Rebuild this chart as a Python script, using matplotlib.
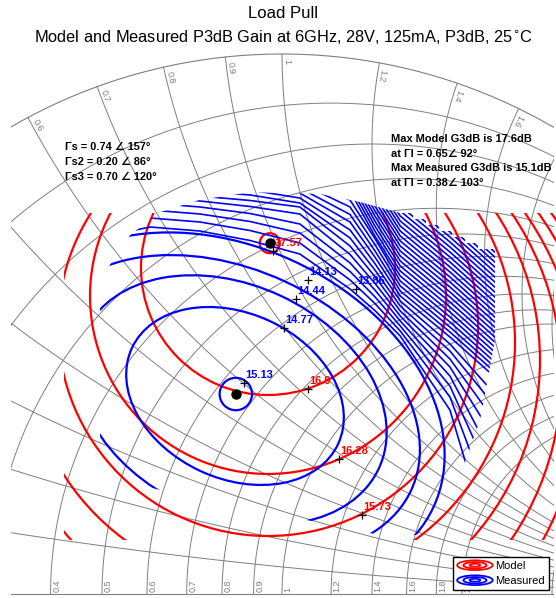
import numpy as np
import matplotlib
matplotlib.use('Agg')
import matplotlib.pyplot as plt
from matplotlib.patches import Circle, Ellipse, Rectangle, Polygon
from matplotlib.legend_handler import HandlerBase
from matplotlib.lines import Line2D

plt.rcParams['font.family'] = ['Liberation Sans', 'DejaVu Sans']
nan = np.nan

# smith chart grid
r_grid = [0.1, 0.2, 0.3, 0.4, 0.5, 0.6, 0.7, 0.8, 0.9, 1, 1.2, 1.4, 1.6, 1.8, 2, 3, 4, 5, 10, 20, 50]
x_grid = [0.1, 0.2, 0.3, 0.4, 0.5, 0.6, 0.7, 0.8, 0.9, 1, 1.2, 1.4, 1.6, 1.8, 2, 3, 4, 5, 10, 20, 50]
r_labels = [0.4, 0.5, 0.6, 0.7, 0.8, 0.9, 1, 1.2, 1.4, 1.6, 1.8, 2]
x_labels = [0.6, 0.7, 0.8, 0.9, 1, 1.2, 1.4, 1.6]

# max gain points (magnitude, angle): model, measured
max_mag = [0.65, 0.38]
max_ang = [92, 103]

# model contours, circles in the gamma plane (first one sits on the max point)
model_cx = [-0.0227, -0.0259, -0.0259, -0.0259, -0.0222, -0.0204, -0.0222, -0.0222, -0.0222, -0.0222]
model_cy = [0.6496, 0.6037, 0.5519, 0.4963, 0.4657, 0.4333, 0.4037, 0.3759, 0.35, 0.3259]
model_r = [0.0185, 0.2352, 0.3296, 0.3889, 0.4537, 0.4981, 0.5398, 0.5759, 0.6111, 0.6444]
# model sweep area (gamma x from, gamma y from, gamma y to)
model_box = [-0.404, 0.1, 0.7056]

# measured contours near the max: ellipses (cx, cy, half axes, tilt)
meas_cx = [-0.0855, -0.0870, -0.0926, -0.1000, -0.1056]
meas_cy = [0.3703, 0.3667, 0.3593, 0.3500, 0.3407]
meas_a = [0.030, 0.2106, 0.3000, 0.3741, 0.4259]
meas_b = [0.030, 0.1530, 0.2130, 0.2519, 0.3037]
meas_tilt = [0, -25, -25, -25, -25]

# outer measured contours: gamma y at these gamma x columns
meas_col_x = [-0.337, -0.244, -0.152, -0.059, 0.033, 0.126, 0.172, 0.219, 0.311, 0.394]
meas_outer_y = [
    [0.6611, 0.6796, 0.6722, 0.6546, 0.6296, 0.5648, 0.5250, 0.4778, 0.3407, 0.0630],
    [0.6778, 0.6963, 0.6889, 0.6731, 0.6500, 0.5815, 0.5380, 0.4870, 0.3648, 0.1426],
    [0.6926, 0.7111, 0.7037, 0.6898, 0.6685, 0.5972, 0.5505, 0.4963, 0.3852, 0.2000],
    [0.7056, 0.7241, 0.7167, 0.7046, 0.6852, 0.6130, 0.5630, 0.5056, 0.4037, 0.2463],
    [0.7167, 0.7352, 0.7278, 0.7176, 0.7037, 0.6287, 0.5755, 0.5148, 0.4204, 0.2870],
    [0.7259, 0.7444, 0.7370, 0.7287, 0.7167, 0.6444, 0.5880, 0.5241, 0.4352, 0.3204],
    [0.7352, 0.7537, 0.7463, 0.7389, 0.7241, 0.6593, 0.6000, 0.5333, 0.4500, 0.3481],
    [0.7444, 0.7630, 0.7556, 0.7481, 0.7333, 0.6741, 0.6120, 0.5426, 0.4630, 0.3704],
    [nan, nan, nan, nan, 0.7426, 0.6889, 0.6241, 0.5519, 0.4759, 0.4019],
    [nan, nan, nan, nan, 0.7519, 0.7028, 0.6356, 0.5611, 0.4852, 0.4111],
    [nan, nan, nan, nan, 0.7611, 0.7167, 0.6472, 0.5704, 0.4944, 0.4204],
    [nan, nan, nan, nan, 0.7704, 0.7296, 0.6583, 0.5796, 0.5037, 0.4296],
    [nan, nan, nan, nan, nan, 0.7463, 0.6630, 0.5889, 0.5130, 0.4389],
    [nan, nan, nan, nan, nan, 0.7556, 0.6722, 0.5981, 0.5222, 0.4481],
    [nan, nan, nan, nan, nan, 0.7648, 0.6815, 0.6074, 0.5315, 0.4574],
    [nan, nan, nan, nan, nan, 0.7741, 0.6907, 0.6167, 0.5407, 0.4667],
    [nan, nan, nan, nan, nan, 0.7833, 0.7000, 0.6259, 0.5500, 0.4759],
    [nan, nan, nan, nan, nan, 0.7926, 0.7093, 0.6352, 0.5593, 0.4852],
    [nan, nan, nan, nan, nan, 0.8019, 0.7185, 0.6444, 0.5685, 0.4944],
    [nan, nan, nan, nan, nan, 0.8111, 0.7278, 0.6537, 0.5778, 0.5037],
    [nan, nan, nan, nan, nan, 0.8204, 0.7370, 0.6630, 0.5870, 0.5130],
    [nan, nan, nan, nan, nan, 0.8296, 0.7463, 0.6722, 0.5963, 0.5222],
    [nan, nan, nan, nan, nan, 0.8389, 0.7556, 0.6815, 0.6056, 0.5315],
    [nan, nan, nan, nan, nan, 0.8481, 0.7648, 0.6907, 0.6148, 0.5407],
    [nan, nan, nan, nan, nan, 0.8574, 0.7741, 0.7000, 0.6241, 0.5500],
    [nan, nan, nan, nan, nan, 0.8667, 0.7833, 0.7093, 0.6333, 0.5593],
    [nan, nan, nan, nan, nan, 0.8759, 0.7926, 0.7185, 0.6426, 0.5685],
    [nan, nan, nan, nan, nan, 0.8852, 0.8019, 0.7278, 0.6519, 0.5778],
    [nan, nan, nan, nan, nan, 0.8944, 0.8111, 0.7370, 0.6611, 0.5870],
    [nan, nan, nan, nan, nan, 0.9037, 0.8204, 0.7463, 0.6704, 0.5963],
    [nan, nan, nan, nan, nan, 0.9130, 0.8296, 0.7556, 0.6796, 0.6056],
    [nan, nan, nan, nan, nan, 0.9222, 0.8389, 0.7648, 0.6889, 0.6148],
    [nan, nan, nan, nan, nan, 0.9315, 0.8481, 0.7741, 0.6981, 0.6241],
    [nan, nan, nan, nan, nan, 0.9407, 0.8574, 0.7833, 0.7074, 0.6333],
]

# measured sweep area outline
meas_area_x = [-0.337, -0.319, -0.281, -0.226, -0.152, -0.059, 0.070, 0.144, 0.219,
               0.2426, 0.2426, 0.2667, 0.2667, 0.2907, 0.2907, 0.3148, 0.3148, 0.3389, 0.3389,
               0.3630, 0.3630, 0.3944, 0.3944, 0.3667, 0.3204, 0.2778, 0.2130, 0.1611, 0.0759,
               -0.0593, -0.1889, -0.300, -0.337]
meas_area_y = [0.544, 0.609, 0.665, 0.707, 0.730, 0.744, 0.741, 0.726, 0.7056,
               0.7056, 0.6944, 0.6944, 0.6833, 0.6833, 0.6722, 0.6722, 0.6611, 0.6611, 0.65,
               0.65, 0.6389, 0.6389, 0.4704, 0.3222, 0.1926, 0.1148, 0.1037, 0.1130, 0.1315,
               0.1556, 0.1833, 0.2111, 0.2296]

# contour label points
lab_text = ['17.57', '16.9', '16.28', '15.73', '15.13', '14.77', '14.44', '14.13', '13.86']
lab_x = [-0.0167, 0.0481, 0.1056, 0.1481, -0.0704, 0.0037, 0.0259, 0.0481, 0.137]
lab_y = [0.6352, 0.3796, 0.25, 0.1463, 0.3907, 0.4926, 0.5463, 0.5815, 0.5648]
lab_col = ['red', 'red', 'red', 'red', 'blue', 'blue', 'blue', 'blue', 'blue']


class RingHandler(HandlerBase):
    def create_artists(self, legend, orig_handle, xd, yd, w, h, fontsize, trans):
        col = orig_handle.get_color()
        cx, cy = -xd + w/2, -yd + h/2
        arts = []
        for s in [1.0, 0.65, 0.3]:
            arts.append(Ellipse((cx, cy), w*s, h*1.25*s, fill=False, ec=col, lw=1.3, transform=trans))
        return arts


fig = plt.figure(figsize=(5.56, 5.98), dpi=100)
ax = fig.add_axes([11/556, 1/598, 543/556, 547/598])
ax.set_xlim((11-282)/540, (554-282)/540)
ax.set_ylim((594-597)/540, (594-50)/540)
ax.axis('off')

gc = '#7f7f7f'
th = np.linspace(0, np.pi, 400)
ax.plot(np.cos(th), np.sin(th), color=gc, lw=0.8)
ax.plot([-1, 1], [0, 0], color=gc, lw=0.8)
for r in r_grid:
    c = r/(1+r); R = 1/(1+r)
    ax.plot(c + R*np.cos(th), R*np.sin(th), color=gc, lw=0.7)
rr = np.concatenate([[0], np.logspace(-3, 3, 600)])
for x in x_grid:
    g = (rr + 1j*x - 1)/(rr + 1j*x + 1)
    ax.plot(g.real, g.imag, color=gc, lw=0.7)

for r in r_labels:
    g = (r-1)/(r+1)
    ax.text(g + 0.003, 0.004, str(r), rotation=90, rotation_mode='anchor',
            ha='left', va='top', fontsize=6.5, color=gc)
for x in x_labels:
    g = (1j*x - 1)/(1j*x + 1)
    t = np.angle(g)
    p = 0.99*g
    ax.text(p.real, p.imag, str(x), rotation=np.degrees(t)-180, rotation_mode='anchor',
            ha='left', va='bottom', fontsize=6.5, color=gc)

# model contours
clip_m = Rectangle((model_box[0], model_box[1]), 2.0, model_box[2] - model_box[1],
                   transform=ax.transData)
for i in range(len(model_r)):
    c = Circle((model_cx[i], model_cy[i]), model_r[i], fill=False, ec='red', lw=1.6, zorder=3)
    ax.add_patch(c)
    if i > 0:
        c.set_clip_path(clip_m)

# measured contours
clip_b = Polygon(np.column_stack([meas_area_x, meas_area_y]), closed=True, transform=ax.transData)
for i in range(len(meas_a)):
    e = Ellipse((meas_cx[i], meas_cy[i]), 2*meas_a[i], 2*meas_b[i], angle=meas_tilt[i],
                fill=False, ec='blue', lw=1.6, zorder=3)
    ax.add_patch(e)
    e.set_clip_path(clip_b)
for ys in meas_outer_y:
    ln, = ax.plot(meas_col_x, ys, color='blue', lw=1.2, zorder=3)
    ln.set_clip_path(clip_b)

for m, a in zip(max_mag, max_ang):
    ax.plot(m*np.cos(np.radians(a)), m*np.sin(np.radians(a)), 'o', color='k', ms=6.5, zorder=5)

for t, x, y, c in zip(lab_text, lab_x, lab_y, lab_col):
    ax.plot(x, y, '+', color='k', ms=6, mew=0.9, zorder=5)
    ax.text(x + 0.002, y + 0.005, t, color=c, fontsize=8, fontweight='bold',
            ha='left', va='bottom', zorder=6)

fig.text(283/556, 1 - 13/598, 'Load Pull', ha='center', va='center', fontsize=12)
fig.text(283/556, 1 - 37/598, 'Model and Measured P3dB Gain at 6GHz, 28V, 125mA, P3dB, 25$^{\\circ}$C',
         ha='center', va='center', fontsize=11.8)

left_txt = ['Γs = 0.74 ∠ 157°', 'Γs2 = 0.20 ∠ 86°', 'Γs3 = 0.70 ∠ 120°']
for i, t in enumerate(left_txt):
    fig.text(65/556, 1 - (147 + 15*i)/598, t, fontsize=7.9, fontweight='bold', va='center')
right_txt = ['Max Model G3dB is 17.6dB', 'at Γl = 0.65∠ 92°', 'Max Measured G3dB is 15.1dB', 'at Γl = 0.38∠ 103°']
for i, t in enumerate(right_txt):
    fig.text(391/556, 1 - (139 + 14.7*i)/598, t, fontsize=7.9, fontweight='bold', va='center')

hs = [Line2D([], [], color='red'), Line2D([], [], color='blue')]
leg = fig.legend(hs, ['Model', 'Measured'], handler_map={Line2D: RingHandler()},
                 loc='lower right', bbox_to_anchor=(549/556, 1 - 590/598), borderaxespad=0,
                 fontsize=8, handlelength=3.2, handletextpad=0.25, labelspacing=0.45,
                 borderpad=0.35, fancybox=False, framealpha=1, edgecolor='k')
leg.set_zorder(10)

fig.savefig('out.png', dpi=100)
